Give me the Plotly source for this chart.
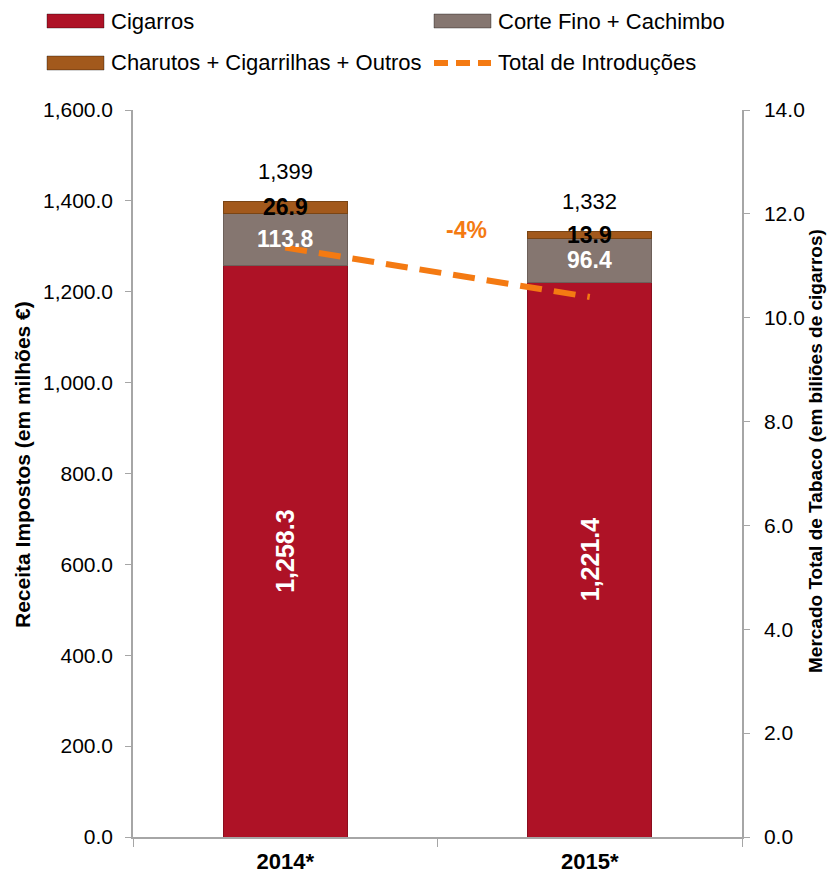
import plotly.graph_objects as go

years = ["2014*", "2015*"]
cigarros = [1258.3, 1221.4]
corte_fino = [113.8, 96.4]
charutos = [26.9, 13.9]
totais = [1399, 1332]
introducoes = [11.35, 10.4]
variacao = "-4%"
nomes = ["Cigarros", "Corte Fino + Cachimbo", "Charutos + Cigarrilhas + Outros", "Total de Introduções"]

FONT = "Liberation Sans, Arial, sans-serif"
C_CIG = "#AE1226"
C_CORTE = "#857670"
C_CHAR = "#A2591C"
C_LINE = "#F47A12"

# plot area in screen pixels (page has an 8px body offset)
OFF = 8
PL, PR, PT, PB = 133, 742, 110, 837
W, H = 830, 869
ml, mt = PL - OFF, PT - OFF
mr, mb = W - (PR - OFF), H - (PB - OFF)

def px2x(px):
    return (px - PL) / (PR - PL)

def px2y(py):
    return (PB - py) / (PB - PT)

fig = go.Figure()
fig.add_trace(go.Bar(
    x=years, y=cigarros, name=nomes[0], marker=dict(color=C_CIG, line=dict(color="#8a0e1e", width=1)),
    text=[f"{v:,.1f}" for v in cigarros], textposition="inside", textangle=-90,
    insidetextanchor="middle", constraintext="none",
    textfont=dict(color="white", size=25, family=FONT, weight="bold"), showlegend=False))
fig.add_trace(go.Bar(
    x=years, y=corte_fino, name=nomes[1], marker=dict(color=C_CORTE, line=dict(color="#6d605a", width=1)),
    showlegend=False))
fig.add_trace(go.Bar(
    x=years, y=charutos, name=nomes[2], marker=dict(color=C_CHAR, line=dict(color="#7a4515", width=1)),
    showlegend=False))
fig.add_trace(go.Scatter(
    x=years, y=introducoes, name=nomes[3], yaxis="y2", mode="lines",
    line=dict(color=C_LINE, width=6, dash="22px,12px"), showlegend=False))

# segment labels
for i, yr in enumerate(years):
    fig.add_annotation(x=yr, y=cigarros[i] + corte_fino[i] / 2, text=f"{corte_fino[i]:,.1f}",
                       showarrow=False, font=dict(color="white", size=23, family=FONT, weight="bold"))
    fig.add_annotation(x=yr, y=cigarros[i] + corte_fino[i] + charutos[i] / 2, text=f"{charutos[i]:,.1f}",
                       showarrow=False, font=dict(color="black", size=23, family=FONT, weight="bold"))
    fig.add_annotation(x=yr, y=totais[i], text=f"{totais[i]:,}", yshift=30, yanchor="middle",
                       showarrow=False, font=dict(color="black", size=22, family=FONT))

fig.add_annotation(xref="paper", x=px2x(466), yref="paper", y=px2y(230), text=variacao, showarrow=False,
                   xanchor="center", yanchor="middle",
                   font=dict(color=C_LINE, size=23, family=FONT, weight="bold"))

# axis titles
fig.add_annotation(xref="paper", x=px2x(22), yref="paper", y=px2y(465), textangle=-90, showarrow=False,
                   xanchor="center", yanchor="middle",
                   text="Receita Impostos (em milhões €)", font=dict(size=21, family=FONT, weight="bold"))
fig.add_annotation(xref="paper", x=px2x(815), yref="paper", y=px2y(451), textangle=-90, showarrow=False,
                   xanchor="center", yanchor="middle",
                   text="Mercado Total de Tabaco (em biliões de cigarros)", font=dict(size=19, family=FONT, weight="bold"))

# legend (custom, wide swatches)
leg_items = [
    (nomes[0], C_CIG, 47, 21, "bar"),
    (nomes[1], C_CORTE, 434, 21, "bar"),
    (nomes[2], C_CHAR, 47, 63, "bar"),
    (nomes[3], C_LINE, 434, 63, "line"),
]
for name, col, x0, yc, kind in leg_items:
    if kind == "bar":
        fig.add_shape(type="rect", xref="paper", yref="paper",
                      x0=px2x(x0), x1=px2x(x0 + 57), y0=px2y(yc - 7), y1=px2y(yc + 7),
                      fillcolor=col, line=dict(color="rgba(0,0,0,0.35)", width=1))
    else:
        fig.add_shape(type="line", xref="paper", yref="paper",
                      x0=px2x(x0), x1=px2x(x0 + 57), y0=px2y(yc), y1=px2y(yc),
                      line=dict(color=col, width=6, dash="14px,8px"))
    fig.add_annotation(xref="paper", yref="paper", x=px2x(x0 + 62), y=px2y(yc), xanchor="left",
                       yanchor="middle", showarrow=False, text=name, font=dict(size=22, family=FONT))

fig.update_layout(
    width=W, height=H,
    margin=dict(l=ml, r=mr, t=mt, b=mb, autoexpand=False),
    paper_bgcolor="white", plot_bgcolor="white",
    barmode="stack", bargap=0.593,
    font=dict(family=FONT, size=22, color="black"),
    showlegend=False,
    xaxis=dict(showline=True, linecolor="#A6A6A6", linewidth=1.5, ticks="outside", tickson="boundaries",
               ticklen=8, tickcolor="#A6A6A6", ticklabelstandoff=4,
               tickfont=dict(size=22, weight="bold"), showgrid=False),
    yaxis=dict(range=[0, 1600], dtick=200, tickformat=",.1f", showline=True, linecolor="#A6A6A6",
               linewidth=1.5, ticks="outside", ticklen=6, tickcolor="#A6A6A6", showgrid=False,
               ticklabelstandoff=8, tickfont=dict(size=21)),
    yaxis2=dict(range=[0, 14], dtick=2, tickformat=".1f", overlaying="y", side="right", showline=True,
                linecolor="#A6A6A6", linewidth=1.5, ticks="outside", ticklen=6, tickcolor="#A6A6A6",
                showgrid=False, ticklabelstandoff=10, tickfont=dict(size=21)),
)

fig.write_html("out.html")
